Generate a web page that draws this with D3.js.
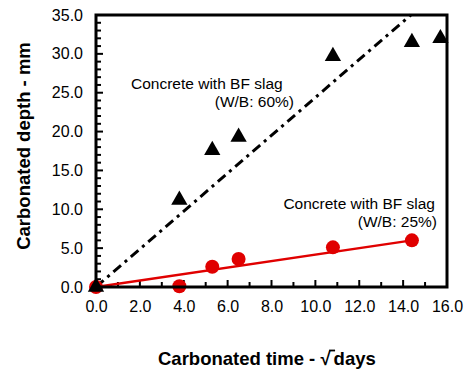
<!DOCTYPE html>
<html>
<head>
<meta charset="utf-8">
<script src="https://cdn.jsdelivr.net/npm/d3@7"></script>
<style>
  body { margin: 0; background: #fff; }
  text { font-family: "Liberation Sans", Arial, sans-serif; }
</style>
</head>
<body>
<div id="chart"></div>
<script>
// readings from the figure
const wb60X = [0.0, 3.8, 5.3, 6.5, 10.8, 14.4, 15.7];
const wb60Y = [0.0, 11.2, 17.6, 19.3, 29.7, 31.5, 32.0];
const wb25X = [0.0, 3.8, 5.3, 6.5, 10.8, 14.4];
const wb25Y = [0.0, 0.1, 2.6, 3.6, 5.1, 6.0];
const fit60 = [[0, 0], [14.35, 35]];
const fit25 = [[0, 0], [14.4, 6.0]];
const xTicks = [0, 2, 4, 6, 8, 10, 12, 14, 16];
const yTicks = [0, 5, 10, 15, 20, 25, 30, 35];

const width = 465, height = 372;
const margin = {top: 15, right: 18, bottom: 85, left: 96};
const w = width - margin.left - margin.right;
const h = height - margin.top - margin.bottom;

const svg = d3.select("#chart").append("svg")
    .attr("width", width)
    .attr("height", height);
const g = svg.append("g")
    .attr("transform", `translate(${margin.left},${margin.top})`);

const x = d3.scaleLinear().domain([0, 16]).range([0, w]);
const y = d3.scaleLinear().domain([0, 35]).range([h, 0]);

// minor + major ticks inside the frame
const tickG = g.append("g");
d3.range(0, 36, 1).forEach(v => {
  tickG.append("line")
    .attr("x1", 0).attr("x2", v % 5 === 0 ? 7 : 5)
    .attr("y1", y(v)).attr("y2", y(v))
    .attr("stroke", "#000").attr("stroke-width", 2);
});
d3.range(0, 17, 1).forEach(v => {
  tickG.append("line")
    .attr("x1", x(v)).attr("x2", x(v))
    .attr("y1", h).attr("y2", h - (v % 2 === 0 ? 7 : 5))
    .attr("stroke", "#000").attr("stroke-width", 2);
});

// tick labels via axes
const yAxis = d3.axisLeft(y).tickValues(yTicks).tickFormat(d3.format(".1f")).tickSize(0).tickPadding(13);
const xAxis = d3.axisBottom(x).tickValues(xTicks).tickFormat(d3.format(".1f")).tickSize(0).tickPadding(14);
g.append("g").call(yAxis)
  .call(a => a.select(".domain").remove())
  .selectAll("text").style("font-size", "16px").attr("fill", "#000")
  .style("font-family", "'Liberation Sans', Arial, sans-serif");
g.append("g").attr("transform", `translate(0,${h})`).call(xAxis)
  .call(a => a.select(".domain").remove())
  .selectAll("text").style("font-size", "16px").attr("fill", "#000")
  .style("font-family", "'Liberation Sans', Arial, sans-serif");

// fit lines
const line = d3.line().x(d => x(d[0])).y(d => y(d[1]));
g.append("path").datum(fit60)
  .attr("d", line)
  .attr("fill", "none").attr("stroke", "#000").attr("stroke-width", 3)
  .attr("stroke-dasharray", "10,5,3,5");
g.append("path").datum(fit25)
  .attr("d", line)
  .attr("fill", "none").attr("stroke", "#e00000").attr("stroke-width", 2.5);

// red circles
g.selectAll(".dot25")
  .data(wb25X.map((v, i) => [v, wb25Y[i]]))
  .enter().append("circle")
  .attr("class", "dot25")
  .attr("cx", d => x(d[0])).attr("cy", d => y(d[1]))
  .attr("r", 7)
  .attr("fill", "#e00000");

// black triangles
const tri = d3.symbol().type(d3.symbolTriangle).size(115);
g.selectAll(".tri60")
  .data(wb60X.map((v, i) => [v, wb60Y[i]]))
  .enter().append("path")
  .attr("class", "tri60")
  .attr("d", tri)
  .attr("transform", d => `translate(${x(d[0])},${y(d[1])})`)
  .attr("fill", "#000");

// frame
g.append("rect")
  .attr("x", 0).attr("y", 0).attr("width", w).attr("height", h)
  .attr("fill", "none").attr("stroke", "#000").attr("stroke-width", 3);

// annotations
const note = (tx, ty, txt, anchor) => svg.append("text")
  .attr("x", tx).attr("y", ty).attr("text-anchor", anchor)
  .style("font-size", "15.5px").attr("fill", "#000").text(txt);
note(131, 89, "Concrete with BF slag", "start");
note(294, 107, "(W/B: 60%)", "end");
note(435, 209, "Concrete with BF slag", "end");
note(437, 227, "(W/B: 25%)", "end");

// axis titles
svg.append("text")
  .attr("transform", `translate(30,146) rotate(-90)`)
  .attr("text-anchor", "middle")
  .style("font-size", "18.5px").style("font-weight", "bold")
  .text("Carbonated depth - mm");

const tx0 = 158, ty0 = 365;
const xt = svg.append("text")
  .attr("x", tx0).attr("y", ty0)
  .attr("text-anchor", "start")
  .style("font-size", "18.5px").style("font-weight", "bold");
xt.append("tspan").text("Carbonated time - ");
xt.append("tspan").text("√");
xt.append("tspan").attr("dx", 3).text("days");
const pre = xt.node().getSubStringLength(0, 18);
const rootW = xt.node().getSubStringLength(18, 1);
svg.append("line")
  .attr("x1", tx0 + pre + rootW - 1.5).attr("x2", tx0 + pre + rootW + 4.5)
  .attr("y1", ty0 - 14.5).attr("y2", ty0 - 14.5)
  .attr("stroke", "#000").attr("stroke-width", 1.8);
</script>
</body>
</html>
